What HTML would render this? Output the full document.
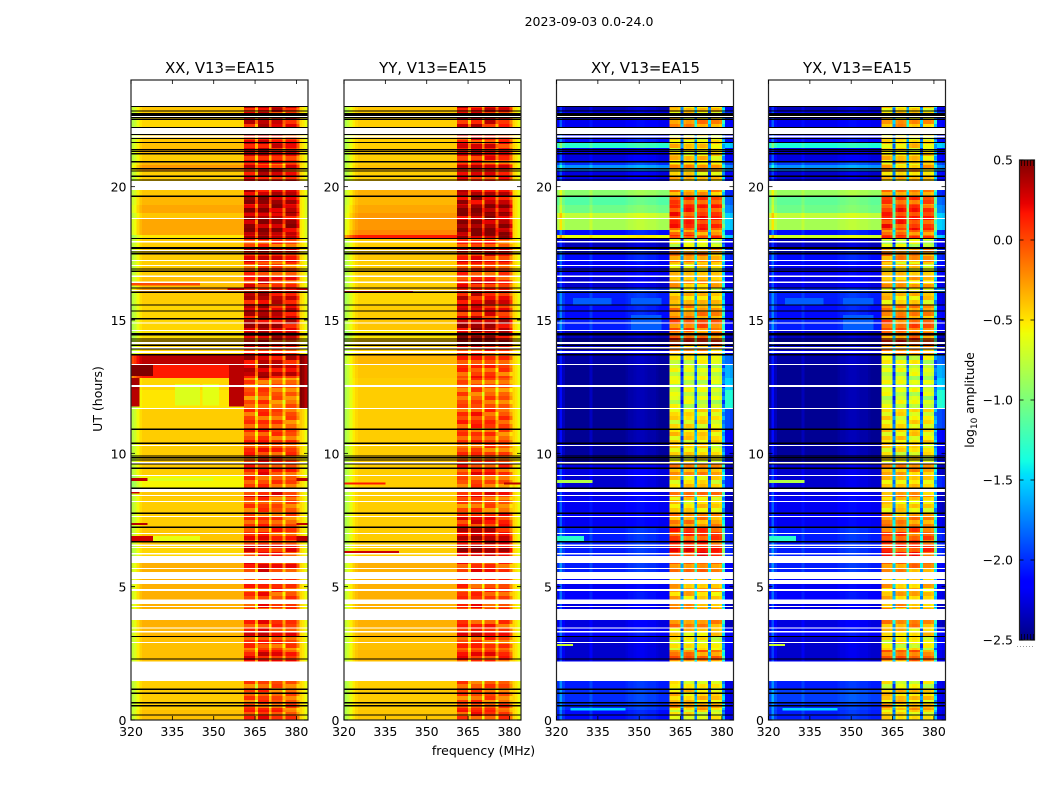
<!DOCTYPE html>
<html lang="en">
<head>
<meta charset="utf-8">
<title>2023-09-03 0.0-24.0</title>
<style>
html,body{margin:0;padding:0;background:#fff;width:1050px;height:800px;overflow:hidden}
svg{display:block}
text{font-family:"DejaVu Sans","Liberation Sans",sans-serif;fill:#000}
</style>
</head>
<body>
<svg id="figure" xmlns="http://www.w3.org/2000/svg" width="1050" height="800" viewBox="0 0 1050 800">
<rect x="0" y="0" width="1050" height="800" fill="#fff"/>
<text x="589" y="26" font-size="12.5" text-anchor="middle">2023-09-03 0.0-24.0</text>
<text x="483.500" y="755" font-size="12.5" text-anchor="middle">frequency (MHz)</text>
<text transform="translate(102,399) rotate(-90)" font-size="12.5" text-anchor="middle">UT (hours)</text>
<text transform="translate(974,400) rotate(-90)" font-size="12.2" text-anchor="middle">log<tspan dy="3" font-size="9">10</tspan><tspan dy="-3"> amplitude</tspan></text>
<g id="panels"></g>
<g id="colorbar"></g>
</svg>
<script>
const products = ['XX, V13=EA15','YY, V13=EA15','XY, V13=EA15','YX, V13=EA15'];
const freqTicks = [320,335,350,365,380];
const utTicks = [0,5,10,15,20];
const colorTicks = [-2.5,-2,-1.5,-1,-0.5,0,0.5];
const colorTickLabels = ['\u22122.5','\u22122.0','\u22121.5','\u22121.0','\u22120.5','0.0','0.5'];

// Time blocks (UT hours, top to bottom), shared by all correlation products
const utEdges = [23.03,22.84,22.5,22.24,21.98,21.68,21.45,21.26,20.96,20.81,
20.59,20.21,19.88,19.65,19.31,19.01,18.79,18.38,18.19,18.08,
17.7,17.18,16.65,16.2,16.05,15.56,15.08,14.63,14.33,14.06,
13.69,13.31,12.83,12.38,11.7,10.88,10.31,9.68,9.19,8.7,
8.36,7.76,7.24,6.56,6.15,5.89,5.55,5.1,4.8,4.35,
3.75,3.45,3.15,2.63,2.21,1.46,1.13,0.64,0.38,0];

// Channel centres 320..384 MHz
const channels = [320,321,322,323,324,325,326,327,328,329,330,331,332,333,334,335,336,337,338,339,
340,341,342,343,344,345,346,347,348,349,350,351,352,353,354,355,356,357,358,359,360,
361,362,363,364,365,366,367,368,369,370,371,372,373,374,375,376,377,378,379,380,
381,382,383,384];

// Per-channel offsets (log10 amplitude)
const xxProfile = [-.35,-.28,-.15,-.05,0,0,0,0,0,0, 0,0,0,0,0,0,0,0,0,0, 0,0,0,0,0,0,0,0,0,0, 0,0,0,0,0,0,0,0,0,0, 0,
.05,.05,.05,.05,-.4,.1,.1,.1,.1,-.35,.03,.03,.03,.03,-.35,0,0,0,0,-.25,
0,-.05,-.15,-.28];
const yyProfile = [-.4,-.32,-.2,-.1,-.04,0,0,0,0,0, 0,0,0,0,0,0,0,0,0,0, 0,0,0,0,0,0,0,0,0,0, 0,0,0,0,0,0,0,0,0,0, 0,
.05,.05,.05,.05,-.4,.08,.08,.08,.08,-.35,.05,.05,.05,.05,-.35,0,0,0,0,-.25,
0,-.05,-.15,-.28];
const xyProfile = [.05,.35,.1,0,0,0,0,0,0,0, 0,0,.12,0,0,0,0,0,0,0, 0,0,0,0,0,.03,.06,.06,.08,.1, .1,.1,.08,.06,.06,.06,.03,0,0,0, 0,
.05,.05,.05,0,-1.3,0,.05,.05,0,-1.1,0,.05,.05,0,-1.3,0,0,0,-.05,-1.1,
0,0,-.05,-.1];
const yxProfile = [.05,.35,.1,0,0,0,0,0,0,0, 0,0,.1,0,0,0,0,0,0,0, 0,0,0,0,0,.03,.06,.06,.08,.1, .1,.1,.08,.06,.06,.06,.03,0,0,0, 0,
.05,.05,.05,0,-1.2,0,.05,.05,0,-1.1,0,.05,.05,0,-1.25,0,0,0,-.05,-1.1,
0,0,-.05,-.1];

// Horizontal striping seen inside the band (log10 amplitude, per 0.15 h row)
const bandRipple = [.08,-.12,.1,.02,-.18,.12,-.06,.06,-.22,.1,.04,-.1,.12,-.16,.02,.08,-.06,-.2,.1,.05,-.12,.12,-.04,-.14];

// Block levels per product: left of band, inside band, right edge
const xxLeft = [-.4,-.42,-.45,-.45,-.4,-.38,-.35,-.42,-.35,-.25,
-.42,-.42,-.4,-.35,-.3,-.4,-.3,-.3,-.5,-.42,
-.42,-.42,-.38,-.25,-.42,-.45,-.45,-.48,-.42,-.42,
.35,.15,-.45,-.5,-.42,-.42,-.42,-.42,-.55,-.4,
-.42,-.42,-.4,-.45,-.33,-.33,-.33,-.33,-.33,-.33,
-.33,-.35,-.38,-.38,-.4,-.42,-.42,-.42,-.38];
const xxBand = [.25,.1,.2,.2,.1,.2,.25,.1,0,.2,
.15,.15,.25,.35,.4,.25,.4,.4,.3,0,
.15,0,.1,.1,.25,.25,.3,.3,.15,.05,
.3,.25,-.1,-.1,-.05,-.02,.02,.05,-.05,.15,
-.08,-.05,.05,.15,.1,.1,.02,.02,0,.02,
.02,.12,-.02,.12,.02,-.08,-.08,-.03,.02];
const xxEdge = [-.45,-.45,-.45,-.45,-.45,-.45,-.45,-.45,-.45,-.45,
-.45,-.45,-.45,-.5,-.5,-.5,-.5,-.5,-.5,-.45,
-.45,-.45,-.45,-.45,-.45,-.45,-.45,-.45,-.45,-.45,
.5,.5,.5,.5,-.4,-.45,-.45,-.45,-.45,-.45,
-.45,-.45,-.45,-.45,-.45,-.45,-.45,-.45,-.45,-.45,
-.45,-.45,-.45,-.45,-.45,-.45,-.45,-.45,-.45];

const yyLeft = [-.4,-.42,-.42,-.42,-.42,-.42,-.4,-.42,-.42,-.38,
-.42,-.42,-.33,-.35,-.3,-.25,-.25,-.2,.15,-.42,
-.4,-.42,-.42,-.4,-.45,-.42,-.4,-.5,-.42,-.42,
-.35,-.4,-.42,-.42,-.42,-.42,-.42,-.42,-.42,-.42,
-.42,-.42,-.42,-.42,-.33,-.33,-.33,-.33,-.33,-.33,
-.33,-.35,-.38,-.36,-.4,-.42,-.42,-.42,-.4];
const yyBand = [.2,.1,.2,.2,.05,.15,.2,.1,0,.2,
.1,.1,.25,.3,.4,.35,.4,.45,.4,0,
.15,0,.1,.05,.2,.15,.3,.35,.4,.05,
0,0,-.1,-.1,0,-.05,-.05,.05,-.1,.1,
-.1,.1,.25,.3,.05,.05,.02,-.02,-.02,.02,
.02,.12,-.02,.08,-.02,-.08,-.08,-.03,.02];
const yyEdge = [-.45,-.45,-.45,-.45,-.45,-.45,-.45,-.45,-.45,-.45,
-.45,-.45,-.45,-.45,-.45,-.45,-.45,-.45,-.45,-.45,
-.45,-.45,-.45,-.45,-.45,-.45,-.45,-.45,-.45,-.45,
-.45,-.45,-.45,-.45,-.45,-.45,-.45,-.45,-.45,-.45,
-.45,-.45,-.45,-.45,-.45,-.45,-.45,-.45,-.45,-.45,
-.45,-.45,-.45,-.45,-.45,-.45,-.45,-.45,-.45];

const xyLeft = [-2.35,-2.2,-2.2,-2.2,-2.1,-1.3,-2.2,-2.25,-2,-1.7,
-2.25,-2.2,-.95,-1.15,-1.05,-.75,-.85,-2.1,-.6,-2.35,
-2.1,-2.2,-2.3,-2,-2.05,-2.1,-2.05,-2.35,-2.2,-2.3,
-2.4,-2.45,-2.45,-2.45,-2.45,-2.45,-2.42,-2.25,-2.3,-2.25,
-2.2,-2.2,-2.05,-2.05,-2.05,-2.05,-2.2,-2.2,-2.15,-2.25,
-2.25,-2.15,-2.3,-2.3,-2.2,-2.05,-2,-2,-2.1];
const xyBand = [-.45,-.5,-.25,-.25,-.55,-.45,-.55,-.45,-.5,-.3,
-.45,-.45,-.25,-.05,.05,.05,.05,-.2,0,-.7,
-.25,-.5,-.35,-.55,-.45,-.25,-.1,-.2,.05,-.3,
-.65,-.7,-.7,-.7,-.55,-.5,-.55,-.3,-.5,-.2,
-.5,-.25,0,.1,-.2,-.2,-.35,-.35,-.4,-.3,
-.25,-.45,-.6,-.15,-.4,-.6,-.45,-.35,-.6];
const xyEdge = [-2.2,-2,-2.1,-2.1,-2.1,-1.5,-2.1,-2.1,-1.9,-1.7,
-2.1,-2.1,-2,-1.8,-1.7,-1.5,-1.5,-2,-1.5,-2.2,
-2,-2.1,-2.2,-1.7,-2.2,-2.1,-2.1,-2.3,-2.2,-2.2,
-1.8,-1.6,-1.5,-1.3,-1.9,-2.1,-2.1,-2.3,-2,-2.3,
-2.3,-2.2,-2,-2,-2.1,-2.1,-2.2,-2.2,-2.2,-2.3,
-2.3,-2.1,-2.1,-2.2,-2.2,-2.2,-2.2,-2.1,-2.2];

const yxLeft = [-2.35,-2.2,-2.2,-2.2,-2.15,-1.35,-2.25,-2.25,-1.95,-1.7,
-2.3,-2.2,-.9,-1.1,-1.05,-.75,-.85,-2.1,-.7,-2.35,
-2.1,-2.2,-2.25,-2,-2.05,-2.1,-2.05,-2.35,-2.2,-2.3,
-2.4,-2.45,-2.45,-2.45,-2.45,-2.45,-2.42,-2.3,-2.3,-2.25,
-2.2,-2.2,-2.05,-2.05,-2.05,-2.05,-2.2,-2.2,-2.15,-2.25,
-2.25,-2.15,-2.3,-2.3,-2.2,-2.05,-1.95,-2,-2.05];
const yxBand = [-.45,-.5,-.3,-.3,-.55,-.45,-.55,-.45,-.5,-.3,
-.45,-.45,-.25,-.05,.05,.05,.05,-.2,0,-.7,
-.25,-.5,-.35,-.55,-.45,-.25,-.1,-.2,.05,-.3,
-.65,-.7,-.7,-.7,-.55,-.5,-.55,-.3,-.5,-.25,
-.5,-.25,-.05,.05,-.2,-.2,-.35,-.35,-.4,-.3,
-.25,-.45,-.6,-.15,-.4,-.6,-.45,-.35,-.55];
const yxEdge = [-2.2,-2,-2.1,-2.1,-2.1,-1.5,-2.1,-2.1,-1.9,-1.7,
-2.1,-2.1,-2,-1.8,-1.7,-1.5,-1.5,-2,-1.5,-2.2,
-2,-2.1,-2.2,-1.7,-2.2,-2.1,-2.1,-2.3,-2.2,-2.2,
-1.8,-1.6,-1.5,-1.3,-1.9,-2.1,-2.1,-2.3,-2,-2.3,
-2.3,-2.2,-2,-2,-2.1,-2.1,-2.2,-2.2,-2.2,-2.3,
-2.3,-2.1,-2.1,-2.2,-2.2,-2.2,-2.2,-2.1,-2.2];

// Localised features: UT top, UT bottom, freq start, freq end, log10 amplitude
const xxPatches = [[13.31,12.9,320,328,.5],[13.69,11.75,355.5,361,.35],[12.83,12.4,320,323,.4],[12.4,11.75,320,323,.35],
[12.6,11.8,336,345,-.65],[12.6,11.8,346,352,-.62],[16.39,16.3,320,345,0],[16.2,16.09,355,361,.25],[16.2,16.09,380,385,.3],
[9.07,8.96,320,326,.35],[9.07,8.96,380,385,.35],[9.07,8.96,326,350,-.65],[8.6,8.5,320,323,.3],
[7.39,7.31,320,326,.35],[7.39,7.31,380,385,.35],[6.9,6.71,320,328,.3],[6.9,6.71,380,385,.35],[6.9,6.71,328,345,-.6]];
const yyPatches = [[16.08,16.02,320,345,.2],[8.9,8.84,320,335,.15],[8.9,8.84,378,385,.35],[6.33,6.27,320,340,.3]];
const xyPatches = [[9,8.88,320,333,-.8],[6.9,6.71,320,330,-1.3],[15.83,15.56,326,340,-1.85],[15.83,15.56,347,358,-1.85],
[15.19,14.63,347,358,-1.85],[2.85,2.78,320,326,-.7],[4.42,4.38,320,335,-.85],[.45,.35,325,345,-1.5]];
const yxPatches = [[9,8.88,320,333,-.8],[6.9,6.71,320,330,-1.3],[15.83,15.56,326,340,-1.85],[15.83,15.56,347,358,-1.85],
[15.19,14.63,347,358,-1.85],[2.85,2.78,320,326,-.7],[4.42,4.38,320,335,-.85],[.45,.35,325,345,-1.5]];

// Flagged rows, common to all products
const whiteGaps = [[24,23.03],[22.66,22.6],[22.2,21.98],[21.91,21.84],[20.21,19.88],[18.83,18.79],[17.96,17.9],[17.63,17.59],
[17.25,17.21],[17.06,17.03],[16.67,16.61],[16.44,16.39],[16.13,16.09],[14.91,14.87],[14.63,14.59],[14.18,14.1],
[13.99,13.91],[13.84,13.76],[13.35,13.31],[12.56,12.49],[11.7,11.66],[10.31,10.28],[9.68,9.62],[9.19,9.15],
[8.66,8.55],[8.44,8.4],[8.21,8.18],[7.65,7.61],[7.01,6.98],[6.58,6.53],[6.49,6.45],[6.26,6.21],[6.15,5.89],
[5.7,5.66],[5.55,5.29],[5.25,5.1],[4.91,4.84],[4.52,4.35],[4.28,4.24],[4.16,3.75],[3.47,3.43],[3.34,3.28],
[2.93,2.89],[2.19,1.46]];
const blackRows = [23.01,22.84,22.74,22.68,22.58,22.52,22.22,21.96,21.81,21.66,21.38,21.32,21.23,20.94,20.67,20.59,20.39,20.25,
19.64,18.06,17.72,17.68,17.55,17.48,16.91,16.83,16.2,16.04,15.56,15.34,15.05,14.48,14.44,14.29,14.21,14.05,13.91,13.7,
10.9,10.38,9.9,9.84,9.75,9.6,9.44,8.69,7.75,7.23,6.69,3.13,2.29,1.15,1,0.65,0.53,0.19];

const leftLevels = [xxLeft,yyLeft,xyLeft,yxLeft];
const bandLevels = [xxBand,yyBand,xyBand,yxBand];
const edgeLevels = [xxEdge,yyEdge,xyEdge,yxEdge];
const profiles = [xxProfile,yyProfile,xyProfile,yxProfile];
const patches = [xxPatches,yyPatches,xyPatches,yxPatches];

const SVGNS = 'http://www.w3.org/2000/svg';
const panelLeft = [131,344,556.500,768.500];
const panelWidth = 177, plotTop = 80, plotBottom = 720;
const pxPerMHz = 2.757;
const rowHours = 0.15;
const cbarX = 1019.5, cbarW = 15, cbarTop = 160, cbarBottom = 640;

function xScale(p,f){ return panelLeft[p] + (f-320)*pxPerMHz; }
function yScale(ut){ return plotBottom - (ut/24)*(plotBottom-plotTop); }
function cScale(v){ return cbarBottom - ((v+2.5)/3)*(cbarBottom-cbarTop); }

function ramp(t,pts){
  for(let i=1;i<pts.length;i++){
    if(t<=pts[i][0]){
      const a=pts[i-1], b=pts[i];
      return a[1]+(b[1]-a[1])*(t-a[0])/(b[0]-a[0]);
    }
  }
  return pts[pts.length-1][1];
}
function jet(v){
  const t=Math.max(0,Math.min(1,(v+2.5)/3));
  const r=ramp(t,[[0,0],[.35,0],[.66,1],[.89,1],[1,.5]]);
  const g=ramp(t,[[0,0],[.125,0],[.375,1],[.64,1],[.91,0],[1,0]]);
  const b=ramp(t,[[0,.5],[.11,1],[.34,1],[.65,0],[1,0]]);
  return 'rgb('+Math.round(r*255)+','+Math.round(g*255)+','+Math.round(b*255)+')';
}
function rect(parent,x,y,w,h,fill){
  const el=document.createElementNS(SVGNS,'rect');
  el.setAttribute('x',x);
  el.setAttribute('y',y);
  el.setAttribute('width',w);
  el.setAttribute('height',h);
  el.setAttribute('fill',fill);
  el.setAttribute('shape-rendering','crispEdges');
  parent.appendChild(el);
  return el;
}
function line(parent,x1,y1,x2,y2,stroke,width){
  const el=document.createElementNS(SVGNS,'line');
  el.setAttribute('x1',x1);
  el.setAttribute('y1',y1);
  el.setAttribute('x2',x2);
  el.setAttribute('y2',y2);
  el.setAttribute('stroke',stroke);
  el.setAttribute('stroke-width',width);
  parent.appendChild(el);
  return el;
}
function label(parent,x,y,str,anchor,size){
  const el=document.createElementNS(SVGNS,'text');
  el.setAttribute('x',x);
  el.setAttribute('y',y);
  el.setAttribute('text-anchor',anchor);
  el.setAttribute('font-size',size);
  el.textContent=str;
  parent.appendChild(el);
  return el;
}

const panelsRoot=document.getElementById('panels');
products.forEach(function(title,p){
  const g=document.createElementNS(SVGNS,'g');
  
  
  panelsRoot.appendChild(g);

  const clip=document.createElementNS(SVGNS,'clipPath');
  clip.setAttribute('id','clip-'+p);
  rect(clip,panelLeft[p],plotTop,panelWidth,plotBottom-plotTop,'#000');
  g.appendChild(clip);

  const heat=document.createElementNS(SVGNS,'g');
  heat.setAttribute('clip-path','url(#clip-'+p+')');
  
  
  g.appendChild(heat);

  for(let b=0;b<utEdges.length-1;b++){
    const top=utEdges[b], bottom=utEdges[b+1];
    channels.forEach(function(f,c){
      if(f>360 && f<=380){ return; }
      const level = f<=360 ? leftLevels[p][b] : edgeLevels[p][b];
      const cell=rect(heat,xScale(p,f),yScale(top),pxPerMHz+0.3,yScale(bottom)-yScale(top)+0.3,jet(level+profiles[p][c]));
      
      
    });
    let ut=top;
    while(ut>bottom+1e-6){
      const rowIndex=Math.ceil(ut/rowHours-1e-6)-1;
      const next=Math.max(bottom,rowIndex*rowHours);
      channels.forEach(function(f,c){
        if(f<=360 || f>380){ return; }
        const subBand=Math.floor((f-361)/5);
        const ripple=bandRipple[(rowIndex+subBand*5+p*3)%bandRipple.length];
        const cell=rect(heat,xScale(p,f),yScale(ut),pxPerMHz+0.3,yScale(next)-yScale(ut)+0.3,jet(bandLevels[p][b]+profiles[p][c]+ripple));
        
        
      });
      ut=next;
    }
  }
  patches[p].forEach(function(q){
    const patch=rect(heat,xScale(p,q[2]),yScale(q[0]),xScale(p,q[3])-xScale(p,q[2]),yScale(q[1])-yScale(q[0]),jet(q[4]));
    
    
  });
  whiteGaps.forEach(function(q){
    const gap=rect(heat,panelLeft[p],yScale(q[0]),panelWidth,yScale(q[1])-yScale(q[0]),'#fff');
    
    
  });
  blackRows.forEach(function(ut){
    const row=rect(heat,panelLeft[p],yScale(ut)-0.65,panelWidth,1.3,'#000');
    
    
  });

  const frame=document.createElementNS(SVGNS,'rect');
  frame.setAttribute('x',panelLeft[p]);
  frame.setAttribute('y',plotTop);
  frame.setAttribute('width',panelWidth);
  frame.setAttribute('height',plotBottom-plotTop);
  frame.setAttribute('fill','none');
  frame.setAttribute('stroke','#222');
  frame.setAttribute('stroke-width','1.2');
  
  
  g.appendChild(frame);

  freqTicks.forEach(function(f){
    const x=xScale(p,f);
    const tb=line(g,x,plotBottom,x,plotBottom-4,'#000',0.8);
    
    
    const tt=line(g,x,plotTop,x,plotTop+4,'#000',0.8);
    
    
    const tl=label(g,x,736,String(f),'middle',12.5);
    
    
  });
  utTicks.forEach(function(ut){
    const y=yScale(ut);
    const tl=line(g,panelLeft[p],y,panelLeft[p]+4,y,'#000',0.8);
    
    
    const tr=line(g,panelLeft[p]+panelWidth,y,panelLeft[p]+panelWidth-4,y,'#000',0.8);
    
    
    const lab=label(g,panelLeft[p]-4.5,y+5,String(ut),'end',12.5);
    
    
  });
  const head=label(g,panelLeft[p]+panelWidth/2+0.5,73,title,'middle',14.9);
  
  
});

const cbar=document.getElementById('colorbar');
const cbarSteps=[];
for(let i=0;i<240;i++){ cbarSteps.push(i); }
cbarSteps.forEach(function(i){
  const v0=-2.5+(i+1)*3/240, v1=-2.5+i*3/240;
  const seg=rect(cbar,cbarX,cScale(v0),cbarW,cScale(v1)-cScale(v0)+0.3,jet((v0+v1)/2));
  
  
});
const cbarFrame=document.createElementNS(SVGNS,'rect');
cbarFrame.setAttribute('x',cbarX);
cbarFrame.setAttribute('y',cbarTop);
cbarFrame.setAttribute('width',cbarW);
cbarFrame.setAttribute('height',cbarBottom-cbarTop);
cbarFrame.setAttribute('fill','none');
cbarFrame.setAttribute('stroke','#222');
cbarFrame.setAttribute('stroke-width','1.2');


cbar.appendChild(cbarFrame);
colorTicks.forEach(function(v,i){
  const y=cScale(v);
  const a=line(cbar,cbarX,y,cbarX+4,y,'#000',0.8);
  
  
  const b=line(cbar,cbarX+cbarW,y,cbarX+cbarW-4,y,'#000',0.8);
  
  
  const t=label(cbar,1013,y+4.5,colorTickLabels[i],'end',12.5);
  
  
});
const minorOffsets=[2,5,8,11,14];
minorOffsets.forEach(function(dx){
  const a=line(cbar,cbarX+dx,cbarTop,cbarX+dx,cbarTop+6,'#000',0.7);
  
  
  const b=line(cbar,cbarX+dx,cbarBottom,cbarX+dx,cbarBottom-6,'#000',0.7);
  
  
});
const dots=line(cbar,1017,646.5,1035,646.5,'#999',1);
dots.setAttribute('stroke-dasharray','1 2');


</script>
</body>
</html>
